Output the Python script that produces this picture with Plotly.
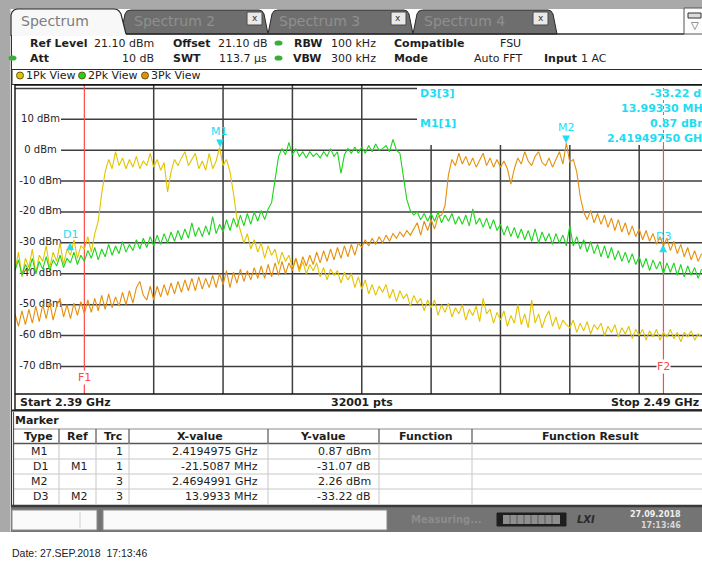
import plotly.graph_objects as go

FONT = "DejaVu Sans"

# ---------------- data ----------------
FREQ_MHZ = [
    2390, 2390.5, 2391, 2391.5, 2392, 2392.5, 2393, 2393.5, 2394, 2394.5, 2395, 2395.5, 2396, 2396.5, 2397, 2397.5, 2398, 2398.5, 2399, 2399.5,
    2400, 2400.5, 2401, 2401.5, 2402, 2402.5, 2403, 2403.5, 2404, 2404.5, 2405, 2405.5, 2406, 2406.5, 2407, 2407.5, 2408, 2408.5, 2409, 2409.5,
    2410, 2410.5, 2411, 2411.5, 2412, 2412.5, 2413, 2413.5, 2414, 2414.5, 2415, 2415.5, 2416, 2416.5, 2417, 2417.5, 2418, 2418.5, 2419, 2419.5,
    2420, 2420.5, 2421, 2421.5, 2422, 2422.5, 2423, 2423.5, 2424, 2424.5, 2425, 2425.5, 2426, 2426.5, 2427, 2427.5, 2428, 2428.5, 2429, 2429.5,
    2430, 2430.5, 2431, 2431.5, 2432, 2432.5, 2433, 2433.5, 2434, 2434.5, 2435, 2435.5, 2436, 2436.5, 2437, 2437.5, 2438, 2438.5, 2439, 2439.5,
    2440, 2440.5, 2441, 2441.5, 2442, 2442.5, 2443, 2443.5, 2444, 2444.5, 2445, 2445.5, 2446, 2446.5, 2447, 2447.5, 2448, 2448.5, 2449, 2449.5,
    2450, 2450.5, 2451, 2451.5, 2452, 2452.5, 2453, 2453.5, 2454, 2454.5, 2455, 2455.5, 2456, 2456.5, 2457, 2457.5, 2458, 2458.5, 2459, 2459.5,
    2460, 2460.5, 2461, 2461.5, 2462, 2462.5, 2463, 2463.5, 2464, 2464.5, 2465, 2465.5, 2466, 2466.5, 2467, 2467.5, 2468, 2468.5, 2469, 2469.5,
    2470, 2470.5, 2471, 2471.5, 2472, 2472.5, 2473, 2473.5, 2474, 2474.5, 2475, 2475.5, 2476, 2476.5, 2477, 2477.5, 2478, 2478.5, 2479, 2479.5,
    2480, 2480.5, 2481, 2481.5, 2482, 2482.5, 2483, 2483.5, 2484, 2484.5, 2485, 2485.5, 2486, 2486.5, 2487, 2487.5, 2488, 2488.5, 2489,
]

TRACE1_DBM = [  # 1Pk View (yellow)
    -39, -33, -41, -35, -38, -32, -40, -34, -36, -31, -38, -33, -36, -30, -37, -32, -34, -29, -35, -31,
    -32, -28, -33, -27, -23, -14, -7, -3, -6, -0.5, -5, -2.5, -6, -3, -5.5, -2, -6, -3.5, -5, -1,
    -5.5, -3, -6.5, -4, -13.5, -7, -3, -5, -2.5, -0.5, -5, -3, -1, -6, -3.5, -6.5, -1, -6, -3.5, 0.87,
    -5, -3, -7, -14, -22, -26, -30, -27, -32, -29, -33, -30, -35, -31, -34, -32, -37, -33, -36, -34,
    -38, -35, -39.5, -36, -40, -37, -39, -36.5, -41, -38, -42, -38.5, -40.5, -39, -43, -39.5, -42, -40, -44.5, -41,
    -45, -42, -46.5, -43.5, -47, -44, -46, -43.5, -48, -45, -49, -45.5, -48, -46.5, -50.5, -47, -49.5, -48, -52, -48.5,
    -51, -48.5, -53.5, -50, -52.5, -49.5, -54, -51, -53, -50, -55, -51.5, -53.5, -50.5, -55.5, -48, -53, -51.5, -56, -52.5,
    -55, -52, -57, -53.5, -56, -50, -56.5, -53, -57.5, -48.5, -56, -53, -57.5, -54, -52, -57, -54, -58, -55, -56.5,
    -57.5, -55, -59, -56, -58.5, -55.5, -59.5, -56.5, -58, -56, -60, -57, -59, -56.5, -60.5, -57.5, -59.5, -57, -61, -58,
    -60, -58, -61.5, -58.5, -60.5, -58, -61.5, -59, -60.5, -58, -61, -59, -62, -59, -60.5, -58.5, -61.5, -59.5, -60.5,
]

TRACE2_DBM = [  # 2Pk View (green)
    -39, -35.5, -40.5, -37, -39, -35, -40, -36, -38.5, -34.5, -39, -35.5, -37.5, -34, -38, -35, -36.5, -33, -37, -34,
    -36, -32.5, -35, -31.5, -35.5, -32, -34.5, -30.5, -34, -31, -33.5, -29.5, -33, -30.5, -32.5, -29, -32, -28.5, -31.5, -28,
    -31, -27.5, -30.5, -27, -30, -26.5, -29.5, -26, -29, -25.5, -28.5, -23.5, -28, -25, -28, -24.5, -27.5, -21.5, -27, -24,
    -26.5, -22.5, -26, -22, -25, -21, -24.5, -20.5, -24, -20, -23, -19.5, -22.5, -19, -17, -10, -2, 0.5, -1.5, 2.5,
    -1.5, 0.5, -2, -0.5, -2.5, -0.5, -2, -1, -2.5, -0.5, -2, 0.5, -2, -0.5, -7.5, -1.5, 0.5, -1, 1, -1,
    1, -1, 1.5, -0.5, 2, 0, 0.5, 1.5, -0.5, 3.5, 0, -1, -9, -16, -19.5, -21, -20, -22.5, -20.5, -23,
    -20.5, -23, -20, -23.5, -21, -23, -20.5, -24, -21.5, -24, -21, -24.5, -19, -24, -22, -25, -22, -25.5, -22.5, -26,
    -24, -27.5, -24.5, -28, -25, -28.5, -25.5, -29, -26, -29.5, -25.5, -30, -26.5, -29.5, -27, -30.5, -27, -30, -27.5, -31,
    -24.5, -31, -28, -32, -29, -33, -29.5, -33.5, -30.5, -34.5, -31, -35, -31.5, -35.5, -32.5, -36, -33, -36.5, -33.5, -37,
    -34.5, -38, -35, -39, -35.5, -38.5, -36, -40, -36.5, -39.5, -36.5, -40.5, -37, -41, -37.5, -40.5, -38, -41.5, -38.5,
]

TRACE3_DBM = [  # 3Pk View (orange)
    -53, -57, -52, -56.5, -51.5, -56, -50.5, -55.5, -50, -54.5, -49, -55, -50.5, -48, -54, -50, -54.5, -49.5, -53.5, -49,
    -53, -48.5, -52.5, -48, -52, -47, -51.5, -46.5, -51, -47.5, -50.5, -46, -50, -45.5, -49.5, -44.5, -42.5, -47, -48.5, -44,
    -48.5, -44, -47.5, -43.5, -47, -43, -46.5, -42.5, -46, -42, -45.5, -41.5, -45.5, -41, -45, -41.5, -44.5, -40.5, -44.5, -40,
    -43.5, -39, -44.5, -39.5, -43, -38.5, -42.5, -39, -42, -38, -41.5, -37.5, -41.5, -37, -41, -36.5, -40.5, -36, -40, -36.5,
    -39, -35, -38.5, -34.5, -37.5, -34, -37, -33, -36.5, -32.5, -36, -32, -35.5, -31.5, -35, -31, -34.5, -30.5, -34, -30,
    -31.5, -29, -31, -28.5, -30.5, -28, -30, -27.5, -29.5, -27, -28.5, -26.5, -28, -26, -27.5, -25.5, -23.5, -27.5, -23, -26,
    -22.5, -25.5, -21.5, -21, -18, -8, -3, -5, -1, -4.5, -2, -5, -2.5, -5.5, -3, -1, -5, -2.5, -5.5, -3,
    -5.5, -3.5, -6, -11, -6, -2.5, -4.5, -0.5, -3.5, -5, -2, -0.5, -4, -5, -2.5, -5.5, -3, -0.5, -4.5, 2.26,
    -4, -3, -7, -15, -20, -22.5, -19.5, -23.5, -20.5, -24, -21, -25, -22, -26, -22.5, -26.5, -23.5, -27.5, -24.5, -28,
    -25.5, -29, -26, -29.5, -27, -30.5, -28, -31, -28.5, -32.5, -29.5, -33.5, -30.5, -34.5, -31.5, -35.5, -32.5, -36, -33.5,
]

TRACE_NAMES = ["1Pk View", "2Pk View", "3Pk View"]
TRACE_COLORS = ["#e3c400", "#1dd41d", "#e68f0c"]

GRID_DBM = [20, 10, 0, -10, -20, -30, -40, -50, -60, -70]
Y_LABEL_DBM = [10, 0, -10, -20, -30, -40, -50, -60, -70]
Y_LABELS = ["10 dBm", "0 dBm", "-10 dBm", "-20 dBm", "-30 dBm", "-40 dBm", "-50 dBm", "-60 dBm", "-70 dBm"]
GRID_MHZ = [2410, 2420, 2430, 2440, 2450, 2460, 2470, 2480]

F_LINE_MHZ = [2400.0, 2483.5]
F_LABELS = ["F1", "F2"]

MARKER_NAMES = ["M1", "D1", "M2", "D3"]
MARKER_FREQ_MHZ = [2419.4975, 2397.9888, 2469.4991, 2483.4924]
MARKER_LEVEL_DBM = [0.87, -30.20, 2.26, -30.96]

TABLE_HEAD = ["Type", "Ref", "Trc", "X-value", "Y-value", "Function", "Function Result"]
TABLE_TYPE = ["M1", "D1", "M2", "D3"]
TABLE_REF = ["", "M1", "", "M2"]
TABLE_TRC = ["1", "1", "3", "3"]
TABLE_X = ["2.4194975 GHz", "-21.5087 MHz", "2.4694991 GHz", "13.9933 MHz"]
TABLE_Y = ["0.87 dBm", "-31.07 dB", "2.26 dBm", "-33.22 dB"]

INFO_LEFT = ["D3[3]", "M1[1]"]
INFO_RIGHT = ["-33.22 dB", "13.99330 MHz", "0.87 dBm", "2.41949750 GHz"]

# ---------------- geometry helpers ----------------
W, H = 702, 566
L, T, B = 15, 85, 394
X_RANGE = [2390.0, 2489.06]
Y_RANGE = [-78.93, 21.1]
CYAN = "#1edcf2"
RED = "#ff4a4a"


def X(px):
    return (px - L) / (W - L)


def Y(py):
    return (B - py) / (B - T)


def fx(px):
    return X_RANGE[0] + (px - L) * (X_RANGE[1] - X_RANGE[0]) / (W - L)


def fy(py):
    return Y_RANGE[1] - (py - T) * (Y_RANGE[1] - Y_RANGE[0]) / (B - T)


shapes = []
annos = []


def rect(x0, y0, x1, y1, fill=None, line=None, lw=1, layer="below"):
    shapes.append(dict(type="rect", xref="paper", yref="paper", x0=X(x0), x1=X(x1), y0=Y(y1), y1=Y(y0),
                       fillcolor=fill or "rgba(0,0,0,0)", line=dict(color=line or "rgba(0,0,0,0)", width=lw if line else 0),
                       layer=layer))


def hline(x0, x1, y, color, lw=1, dash="solid"):
    shapes.append(dict(type="line", xref="paper", yref="paper", x0=X(x0), x1=X(x1), y0=Y(y), y1=Y(y),
                       line=dict(color=color, width=lw, dash=dash), layer="above"))


def vline(x, y0, y1, color, lw=1):
    shapes.append(dict(type="line", xref="paper", yref="paper", x0=X(x), x1=X(x), y0=Y(y0), y1=Y(y1),
                       line=dict(color=color, width=lw), layer="above"))


def path(points, fill=None, line=None, lw=1, close=True):
    s = "M " + " L ".join(f"{X(a):.5f},{Y(b):.5f}" for a, b in points)
    if close:
        s += " Z"
    shapes.append(dict(type="path", xref="paper", yref="paper", path=s,
                       fillcolor=fill or "rgba(0,0,0,0)",
                       line=dict(color=line or "rgba(0,0,0,0)", width=lw if line else 0), layer="below"))


def ellipse(x0, y0, x1, y1, fill, line=None):
    shapes.append(dict(type="circle", xref="paper", yref="paper", x0=X(x0), x1=X(x1), y0=Y(y1), y1=Y(y0),
                       fillcolor=fill, line=dict(color=line or fill, width=1 if line else 0), layer="above"))


def txt(s, x, y, size=11, color="#1e1e1e", bold=False, anchor="left", family=FONT, bg=None):
    if bold:
        s = f"<b>{s}</b>"
    d = dict(text=s, x=X(x), y=Y(y), xref="paper", yref="paper", xanchor=anchor, yanchor="middle",
             showarrow=False, font=dict(family=family, size=size, color=color), borderpad=0)
    if bg:
        d["bgcolor"] = bg
    annos.append(d)


# ---------------- window chrome ----------------
rect(0, 0, 702, 9, fill="#a9a9a9")
rect(0, 0, 10.5, 532, fill="#a9a9a9")

# inactive tabs
TABS = [(121, 268, "Spectrum 2", 133, 247), (268, 413, "Spectrum 3", 278, 391), (413, 557, "Spectrum 4", 423, 533)]
for l, r, name, tx, bx in TABS:
    path([(l, 34), (l + 4, 14), (l + 6, 11), (l + 10, 10), (r - 9, 10), (r - 6, 11), (r - 4, 14), (r, 34)],
         fill="#6e6e6e", line="#2b2b2b", lw=1)
    txt(name, tx, 21, size=14, color="#8f8f8f")
    shapes.append(dict(type="rect", xref="paper", yref="paper", x0=X(bx), x1=X(bx + 15), y0=Y(25), y1=Y(12),
                       fillcolor="#e9e9e9", line=dict(color="#4a4a4a", width=1), layer="above"))
    txt("x", bx + 7.5, 18, size=9, color="#333", anchor="center")

# active tab
path([(11, 36), (11, 15), (12, 12), (14, 10), (17, 9), (114, 9), (117, 9.5), (119, 11), (121, 14), (126, 34), (126, 36)],
     fill="#f8f8f8")
path([(11, 36), (11, 15), (12, 12), (14, 10), (17, 9), (114, 9), (117, 9.5), (119, 11), (121, 14), (126, 34)],
     line="#2b2b2b", lw=1.2, close=False)
txt("Spectrum", 20, 21, size=14, color="#7d7d7d")
hline(126, 684, 34, "#2b2b2b", 1.3)

# top-right icon
shapes.append(dict(type="rect", xref="paper", yref="paper", x0=X(684), x1=X(706), y0=Y(34), y1=Y(8),
                   fillcolor="#fdfdfd", line=dict(color="#555", width=1), layer="above"))
shapes.append(dict(type="rect", xref="paper", yref="paper", x0=X(688), x1=X(701), y0=Y(18), y1=Y(13),
                   fillcolor="#dcdcdc", line=dict(color="#333", width=1), layer="above"))
txt("▽", 694.5, 25, size=10, color="#444", anchor="center")

# panel border
vline(11.5, 35, 506, "#333")

# header parameters
ROW1, ROW2 = 43, 58
txt("Ref Level", 29, ROW1, bold=True)
txt("21.10 dBm", 93, ROW1)
txt("Offset", 172, ROW1, bold=True)
txt("21.10 dB", 217, ROW1)
txt("RBW", 293, ROW1, bold=True)
txt("100 kHz", 330, ROW1)
txt("Compatible", 393, ROW1, bold=True)
txt("FSU", 499, ROW1)
txt("Att", 29, ROW2, bold=True)
txt("10 dB", 155, ROW2, anchor="right")
txt("SWT", 172, ROW2, bold=True)
txt("113.7 µs", 268, ROW2, anchor="right")
txt("VBW", 292, ROW2, bold=True)
txt("300 kHz", 330, ROW2)
txt("Mode", 393, ROW2, bold=True)
txt("Auto FFT", 473, ROW2)
txt("Input", 543, ROW2, bold=True)
txt("1 AC", 580, ROW2)
for (ex, ey) in [(12.5, ROW2), (278.5, ROW1), (278.5, ROW2)]:
    ellipse(ex - 4, ey - 2.6, ex + 4, ey + 2.6, "#3aad3a")

# legend bar
rect(12, 69.5, 712, 84.5, fill="#ffffff", line="#2b2b2b", lw=1)
LEG_X = [20, 82, 145]
for lx, name, col in zip(LEG_X, TRACE_NAMES, TRACE_COLORS):
    ellipse(lx - 3.5, 72, lx + 3.5, 79, col, line="#6a5a10")
    txt(name, lx + 5, 75.5, size=11, color="#222")

# plot frame and Start/Stop row
rect(15, 85, 714, 410, line="#111", lw=1.4, layer="above")
hline(15, 714, 394, "#111", 1.4)
hline(12, 714, 410.5, "#222", 2)
txt("Start 2.39 GHz", 19, 402, bold=True)
txt("32001 pts", 362, 402, bold=True, anchor="center")
txt("Stop 2.49 GHz", 700, 402, bold=True, anchor="right")

# ---------------- marker table ----------------
txt("Marker", 14, 420.5, bold=True)
COL_SEP = [59, 96, 129, 268, 379, 472]
hline(13, 702, 429, "#8a8a8a", 1)
hline(13, 702, 443.5, "#555", 1.5)
for yy in [459, 474, 489]:
    hline(13, 702, yy, "#c8c8c8", 1)
for cx in COL_SEP:
    vline(cx, 429, 443.5, "#555", 1.2)
    vline(cx, 443.5, 504, "#c8c8c8", 1)
vline(13.5, 412, 505, "#555", 1.2)
HEAD_X = [38, 77.5, 113, 199.5, 323, 426, 590]
for hx, h in zip(HEAD_X, TABLE_HEAD):
    txt(h, hx, 436.5, bold=True, anchor="center")
ROW_Y = [451.5, 466.5, 481.5, 496.5]
for i, ry in enumerate(ROW_Y):
    txt(TABLE_TYPE[i], 49, ry, anchor="right")
    if TABLE_REF[i]:
        txt(TABLE_REF[i], 89, ry, anchor="right")
    txt(TABLE_TRC[i], 124, ry, anchor="right")
    txt(TABLE_X[i], 259, ry, anchor="right")
    txt(TABLE_Y[i], 372, ry, anchor="right")

# ---------------- status bar ----------------
rect(11, 506, 702, 532, fill="#747474")
hline(11, 702, 506, "#3a3a3a", 2.5)
shapes.append(dict(type="rect", xref="paper", yref="paper", x0=X(12), x1=X(97), y0=Y(530), y1=Y(510),
                   fillcolor="#fafafa", line=dict(color="#8a8a8a", width=1), layer="above"))
vline(80, 512, 528, "#d0d0d0", 1)
shapes.append(dict(type="rect", xref="paper", yref="paper", x0=X(103), x1=X(387), y0=Y(530), y1=Y(510),
                   fillcolor="#fafafa", line=dict(color="#8a8a8a", width=1), layer="above"))
txt("Measuring...", 410, 519.5, size=10, color="#8c8c8c", bold=True)
shapes.append(dict(type="rect", xref="paper", yref="paper", x0=X(497), x1=X(566), y0=Y(526), y1=Y(513),
                   fillcolor="#1e1e1e", line=dict(color="#1e1e1e", width=1), layer="above"))
shapes.append(dict(type="rect", xref="paper", yref="paper", x0=X(503), x1=X(560), y0=Y(524), y1=Y(515),
                   fillcolor="#8e8e8e", line=dict(color="#8e8e8e", width=0), layer="above"))
for sx in [510, 517, 524, 531, 538, 545, 552]:
    vline(sx, 515, 524, "#5a5a5a", 1)
txt("<i>LXI</i>", 586, 519.5, size=10, color="#2a2a2a", bold=True, anchor="center")
txt("27.09.2018", 682, 514, size=8, color="#f0f0f0", bold=True, anchor="right")
txt("17:13:46", 682, 525, size=8, color="#d8d8d8", bold=True, anchor="right")

txt("Date: 27.SEP.2018  17:13:46", 11, 553, size=10.5, color="#222", family="Liberation Sans")

# ---------------- plot-area grid (axis referenced, below traces) ----------------
GRID_COLOR = "#3e3e3e"
for v in GRID_DBM:
    x0 = X_RANGE[0] if v not in Y_LABEL_DBM else fx(61)
    x1 = fx(417) if v >= 10 else X_RANGE[1] + 2
    shapes.append(dict(type="line", xref="x", yref="y", x0=x0, x1=x1, y0=v, y1=v,
                       line=dict(color=GRID_COLOR, width=1.5), layer="below"))
for f in GRID_MHZ:
    top = fy(145) if f >= 2450 else Y_RANGE[1]
    shapes.append(dict(type="line", xref="x", yref="y", x0=f, x1=f, y0=Y_RANGE[0], y1=top,
                       line=dict(color=GRID_COLOR, width=1.5), layer="below"))

# F1 / F2 frequency lines
shapes.append(dict(type="line", xref="x", yref="y", x0=F_LINE_MHZ[0], x1=F_LINE_MHZ[0], y0=Y_RANGE[0], y1=Y_RANGE[1],
                   line=dict(color=RED, width=1.2), layer="below"))
shapes.append(dict(type="line", xref="x", yref="y", x0=F_LINE_MHZ[1], x1=F_LINE_MHZ[1], y0=Y_RANGE[0], y1=fy(145),
                   line=dict(color=RED, width=1.2), layer="below"))
shapes.append(dict(type="line", xref="x", yref="y", x0=F_LINE_MHZ[1], x1=F_LINE_MHZ[1], y0=fy(145), y1=Y_RANGE[1],
                   line=dict(color=RED, width=1, dash="dot"), layer="below"))
for f, lab, py in zip(F_LINE_MHZ, F_LABELS, [377, 366.5]):
    annos.append(dict(text=lab, x=f, y=fy(py), xref="x", yref="y", showarrow=False, xanchor="center",
                      yanchor="middle", bgcolor="#ffffff", borderpad=0,
                      font=dict(family=FONT, size=11, color=RED)))

# marker symbols and labels
for name, f, lv in zip(MARKER_NAMES, MARKER_FREQ_MHZ, MARKER_LEVEL_DBM):
    if name.startswith("M"):
        sym, sshift, lshift = "▼", 5, 16
    else:
        sym, sshift, lshift = "▲", -2, 9
    annos.append(dict(text=sym, x=f, y=lv, xref="x", yref="y", showarrow=False, yshift=sshift,
                      font=dict(family=FONT, size=10, color=CYAN)))
    annos.append(dict(text=name, x=f, y=lv, xref="x", yref="y", showarrow=False, yshift=lshift,
                      font=dict(family=FONT, size=11, color=CYAN)))

# marker info block
for s, py in zip(INFO_LEFT, [93, 123]):
    txt(s, 419, py, size=11, color=CYAN, bold=True)
for s, py in zip(INFO_RIGHT, [93, 108, 123, 138]):
    txt(s, 710, py, size=11, color=CYAN, bold=True, anchor="right")

# ---------------- traces ----------------
fig = go.Figure()
fig.add_trace(go.Scatter(x=[fx(40.5)] * len(Y_LABEL_DBM), y=Y_LABEL_DBM, text=Y_LABELS, mode="text",
                         textposition="middle center", textfont=dict(family=FONT, size=10, color="#1e1e1e"),
                         hoverinfo="skip", showlegend=False, cliponaxis=False))
for ys, name, col in zip([TRACE1_DBM, TRACE2_DBM, TRACE3_DBM], TRACE_NAMES, TRACE_COLORS):
    fig.add_trace(go.Scatter(x=FREQ_MHZ, y=ys, name=name, mode="lines", line=dict(color=col, width=1.1),
                             hoverinfo="skip", showlegend=False))

fig.update_layout(
    width=W, height=H,
    margin=dict(l=L, r=0, t=T, b=H - B, pad=0),
    paper_bgcolor="#ffffff", plot_bgcolor="rgba(0,0,0,0)",
    xaxis=dict(range=X_RANGE, visible=False, showgrid=False, zeroline=False, fixedrange=True),
    yaxis=dict(range=Y_RANGE, visible=False, showgrid=False, zeroline=False, fixedrange=True),
    shapes=shapes, annotations=annos, hovermode=False, showlegend=False,
)

fig.write_html("out.html", config={"displayModeBar": False},
               post_script="document.body.style.margin='0';document.body.style.overflow='hidden';")
